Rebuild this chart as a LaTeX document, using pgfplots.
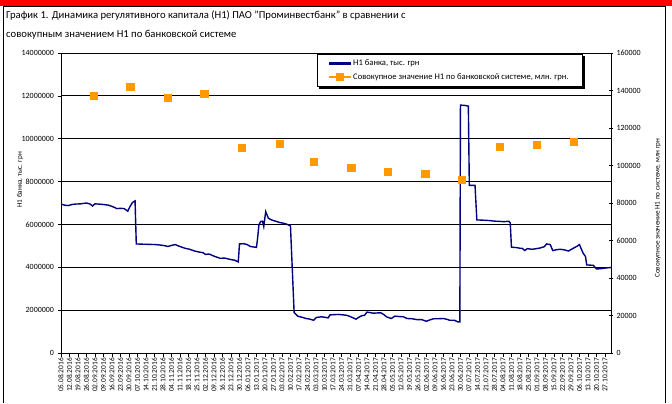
\documentclass[border=0pt]{standalone}
\usepackage{fontspec}
\setmainfont{Carlito}
\usepackage{pgfplots}
\pgfplotsset{compat=1.18}
\definecolor{navyline}{RGB}{0,0,128}
\definecolor{sqorange}{RGB}{255,153,0}
\begin{document}
\begin{tikzpicture}[x=1bp,y=1bp]
\useasboundingbox (0,0) rectangle (672,403);
\fill[red] (0,397) rectangle (672,403);
\draw[black, line width=1bp] (3.5,0) -- (3.5,396.5) -- (665.5,396.5) -- (665.5,0);
\node[anchor=base west, font=\fontsize{10.7}{12}\selectfont, inner sep=0] at (6,385) {График 1. Динамика регулятивного капитала (Н1) ПАО "Проминвестбанк" в сравнении с};
\node[anchor=base west, font=\fontsize{10.7}{12}\selectfont, inner sep=0] at (6,366) {совокупным значением Н1 по банковской системе};

\begin{axis}[
  at={(61bp,50bp)}, anchor=south west, scale only axis,
  width=550bp, height=300bp,
  xmin=0, xmax=453, ymin=0, ymax=14000000,
  axis y line*=left, axis x line*=bottom,
  axis line style={black, line width=0.8bp},
  ytick={0,2000000,...,14000000},
  scaled y ticks=false,
  /pgf/number format/assume math mode=true,
  yticklabel style={/pgf/number format/fixed, /pgf/number format/1000 sep={}, font=\fontsize{8}{9}\selectfont},
  xtick={0,7,...,448},
  xticklabels={05.08.2016,12.08.2016,19.08.2016,26.08.2016,02.09.2016,09.09.2016,16.09.2016,23.09.2016,30.09.2016,07.10.2016,14.10.2016,21.10.2016,28.10.2016,04.11.2016,11.11.2016,18.11.2016,25.11.2016,02.12.2016,09.12.2016,16.12.2016,23.12.2016,30.12.2016,06.01.2017,13.01.2017,20.01.2017,27.01.2017,03.02.2017,10.02.2017,17.02.2017,24.02.2017,03.03.2017,10.03.2017,17.03.2017,24.03.2017,31.03.2017,07.04.2017,14.04.2017,21.04.2017,28.04.2017,05.05.2017,12.05.2017,19.05.2017,26.05.2017,02.06.2017,09.06.2017,16.06.2017,23.06.2017,30.06.2017,07.07.2017,14.07.2017,21.07.2017,28.07.2017,04.08.2017,11.08.2017,18.08.2017,25.08.2017,01.09.2017,08.09.2017,15.09.2017,22.09.2017,29.09.2017,06.10.2017,13.10.2017,20.10.2017,27.10.2017},
  xticklabel style={rotate=90, anchor=east, font=\fontsize{7.4}{8}\selectfont, inner sep=1.5bp},
  tick align=outside, major tick length=3.5bp,
  tick style={black, line width=0.6bp},
  ymajorgrids, grid style={black, line width=0.8bp},
  ylabel={Н1 банка, тыс. грн},
  ylabel style={at={(rel axis cs:-0.0745,0.577)}, anchor=center, font=\fontsize{7.2}{8}\selectfont},
]
\addplot[navyline, line width=1.4bp] coordinates {
(0,6950000) (3,6900000) (6,6880000) (9,6930000) (12,6950000) (16,6960000) (21,7000000) (24,6950000) (26,6860000) (28,6960000)
(31,6950000) (35,6930000) (39,6900000) (43,6820000) (46,6740000) (49,6750000) (52,6740000) (55,6620000) (57,6850000) (59,7030000)
(61,7100000) (62,5090000) (66,5080000) (72,5070000) (78,5060000) (83,5030000) (86,5000000) (88,4970000) (91,5020000) (94,5060000)
(98,4970000) (102,4890000) (106,4840000) (110,4760000) (113,4720000) (117,4680000) (119,4600000) (122,4620000) (126,4520000) (131,4420000)
(135,4430000) (139,4370000) (143,4330000) (146,4250000) (147,5090000) (150,5100000) (153,5070000) (156,4970000) (161,4930000) (162,5400000)
(163,5980000) (164.5,6140000) (166,6150000) (167,5900000) (168.6,6600000) (170.8,6290000) (173,6220000) (175,6180000) (178,6130000) (180,6090000)
(183,6060000) (186,6010000) (189,5930000) (192,1890000) (195,1720000) (199,1660000) (202,1610000) (205,1580000) (208,1530000) (210.5,1660000)
(214.7,1690000) (218,1660000) (220,1640000) (221.6,1780000) (225,1790000) (228.5,1800000) (232,1780000) (235.4,1760000) (239,1680000) (243,1580000)
(245,1660000) (247.7,1740000) (250,1760000) (252,1910000) (257,1860000) (261,1870000) (263.6,1870000) (266,1790000) (268,1690000) (272,1610000)
(275,1720000) (279,1700000) (282,1690000) (285,1610000) (289,1600000) (293,1560000) (297,1560000) (301,1480000) (304,1550000) (307,1600000)
(311,1600000) (315,1610000) (318,1570000) (320,1530000) (324,1530000) (327,1450000) (328.5,1450000) (329,11570000) (333,11550000) (335.5,11520000)
(336.3,7820000) (341,7820000) (342.5,6210000) (347,6200000) (353,6180000) (358,6150000) (361.6,6140000) (365,6130000) (367,6140000) (369,6140000)
(370,6070000) (371,4940000) (375,4920000) (378,4890000) (380,4880000) (382,4780000) (384,4870000) (388,4840000) (390.5,4860000) (394.6,4900000)
(398,4960000) (400,5090000) (403,5060000) (405,4780000) (408,4820000) (411,4840000) (414,4820000) (418,4760000) (422,4890000) (425,4980000)
(427,5060000) (430,4660000) (432,4500000) (433,4110000) (436,4100000) (438.5,4090000) (441,3920000) (445,3940000) (449,3970000) (453,3990000)
};
\end{axis}

\begin{axis}[
  at={(61bp,50bp)}, anchor=south west, scale only axis,
  width=550bp, height=300bp,
  xmin=0, xmax=453, ymin=0, ymax=160000,
  axis y line*=right, axis x line=none,
  axis line style={black, line width=0.8bp},
  ytick={0,20000,...,160000},
  scaled y ticks=false,
  /pgf/number format/assume math mode=true,
  yticklabel style={/pgf/number format/fixed, /pgf/number format/1000 sep={}, font=\fontsize{8}{9}\selectfont},
  tick align=center, major tick length=4bp,
  tick style={black, line width=0.6bp},
  ylabel={Совокупное значение Н1 по системе, млн грн},
  ylabel style={at={(rel axis cs:1.085,0.483)}, anchor=center, rotate=0, font=\fontsize{7.2}{8}\selectfont},
  legend style={name=leg, at={(rel axis cs:0.4655,0.997)}, anchor=north west, draw=black, line width=0.8bp, fill=white,
    font=\fontsize{8.6}{10}\selectfont, row sep=2.5bp, inner xsep=12bp, inner ysep=3.5bp,
    /tikz/every even column/.append style={column sep=3.5bp}},
  legend cell align=left,
]
\addlegendimage{legend image code/.code={\fill[navyline] (0bp,-0.65bp) rectangle (21bp,0.65bp);}}
\addlegendentry{Н1 банка, тыс. грн}
\addplot[only marks, mark=square*, mark size=3.6bp, color=sqorange, mark options={draw=sqorange, fill=sqorange},
  legend image code/.code={\fill[sqorange] (0bp,-0.5bp) rectangle (21bp,0.5bp); \fill[sqorange] (7bp,-3.5bp) rectangle (14bp,3.5bp);}]
coordinates {
(27,137200) (57,142000) (88,136200) (118,138300) (149,109600) (180,111700) (208,102100)
(239,98900) (269,96800) (300,95700) (330,92600) (361,110100) (392,111200) (422,112800)
};
\addlegendentry{Совокупное значение Н1 по банковской системе, млн. грн.}
\end{axis}
\fill[black] ([shift={(2bp,-2bp)}]leg.south west) rectangle ([shift={(2bp,0bp)}]leg.south east);
\fill[black] ([shift={(0bp,-2bp)}]leg.north east) rectangle ([shift={(2bp,-2bp)}]leg.south east);
\end{tikzpicture}
\end{document}
